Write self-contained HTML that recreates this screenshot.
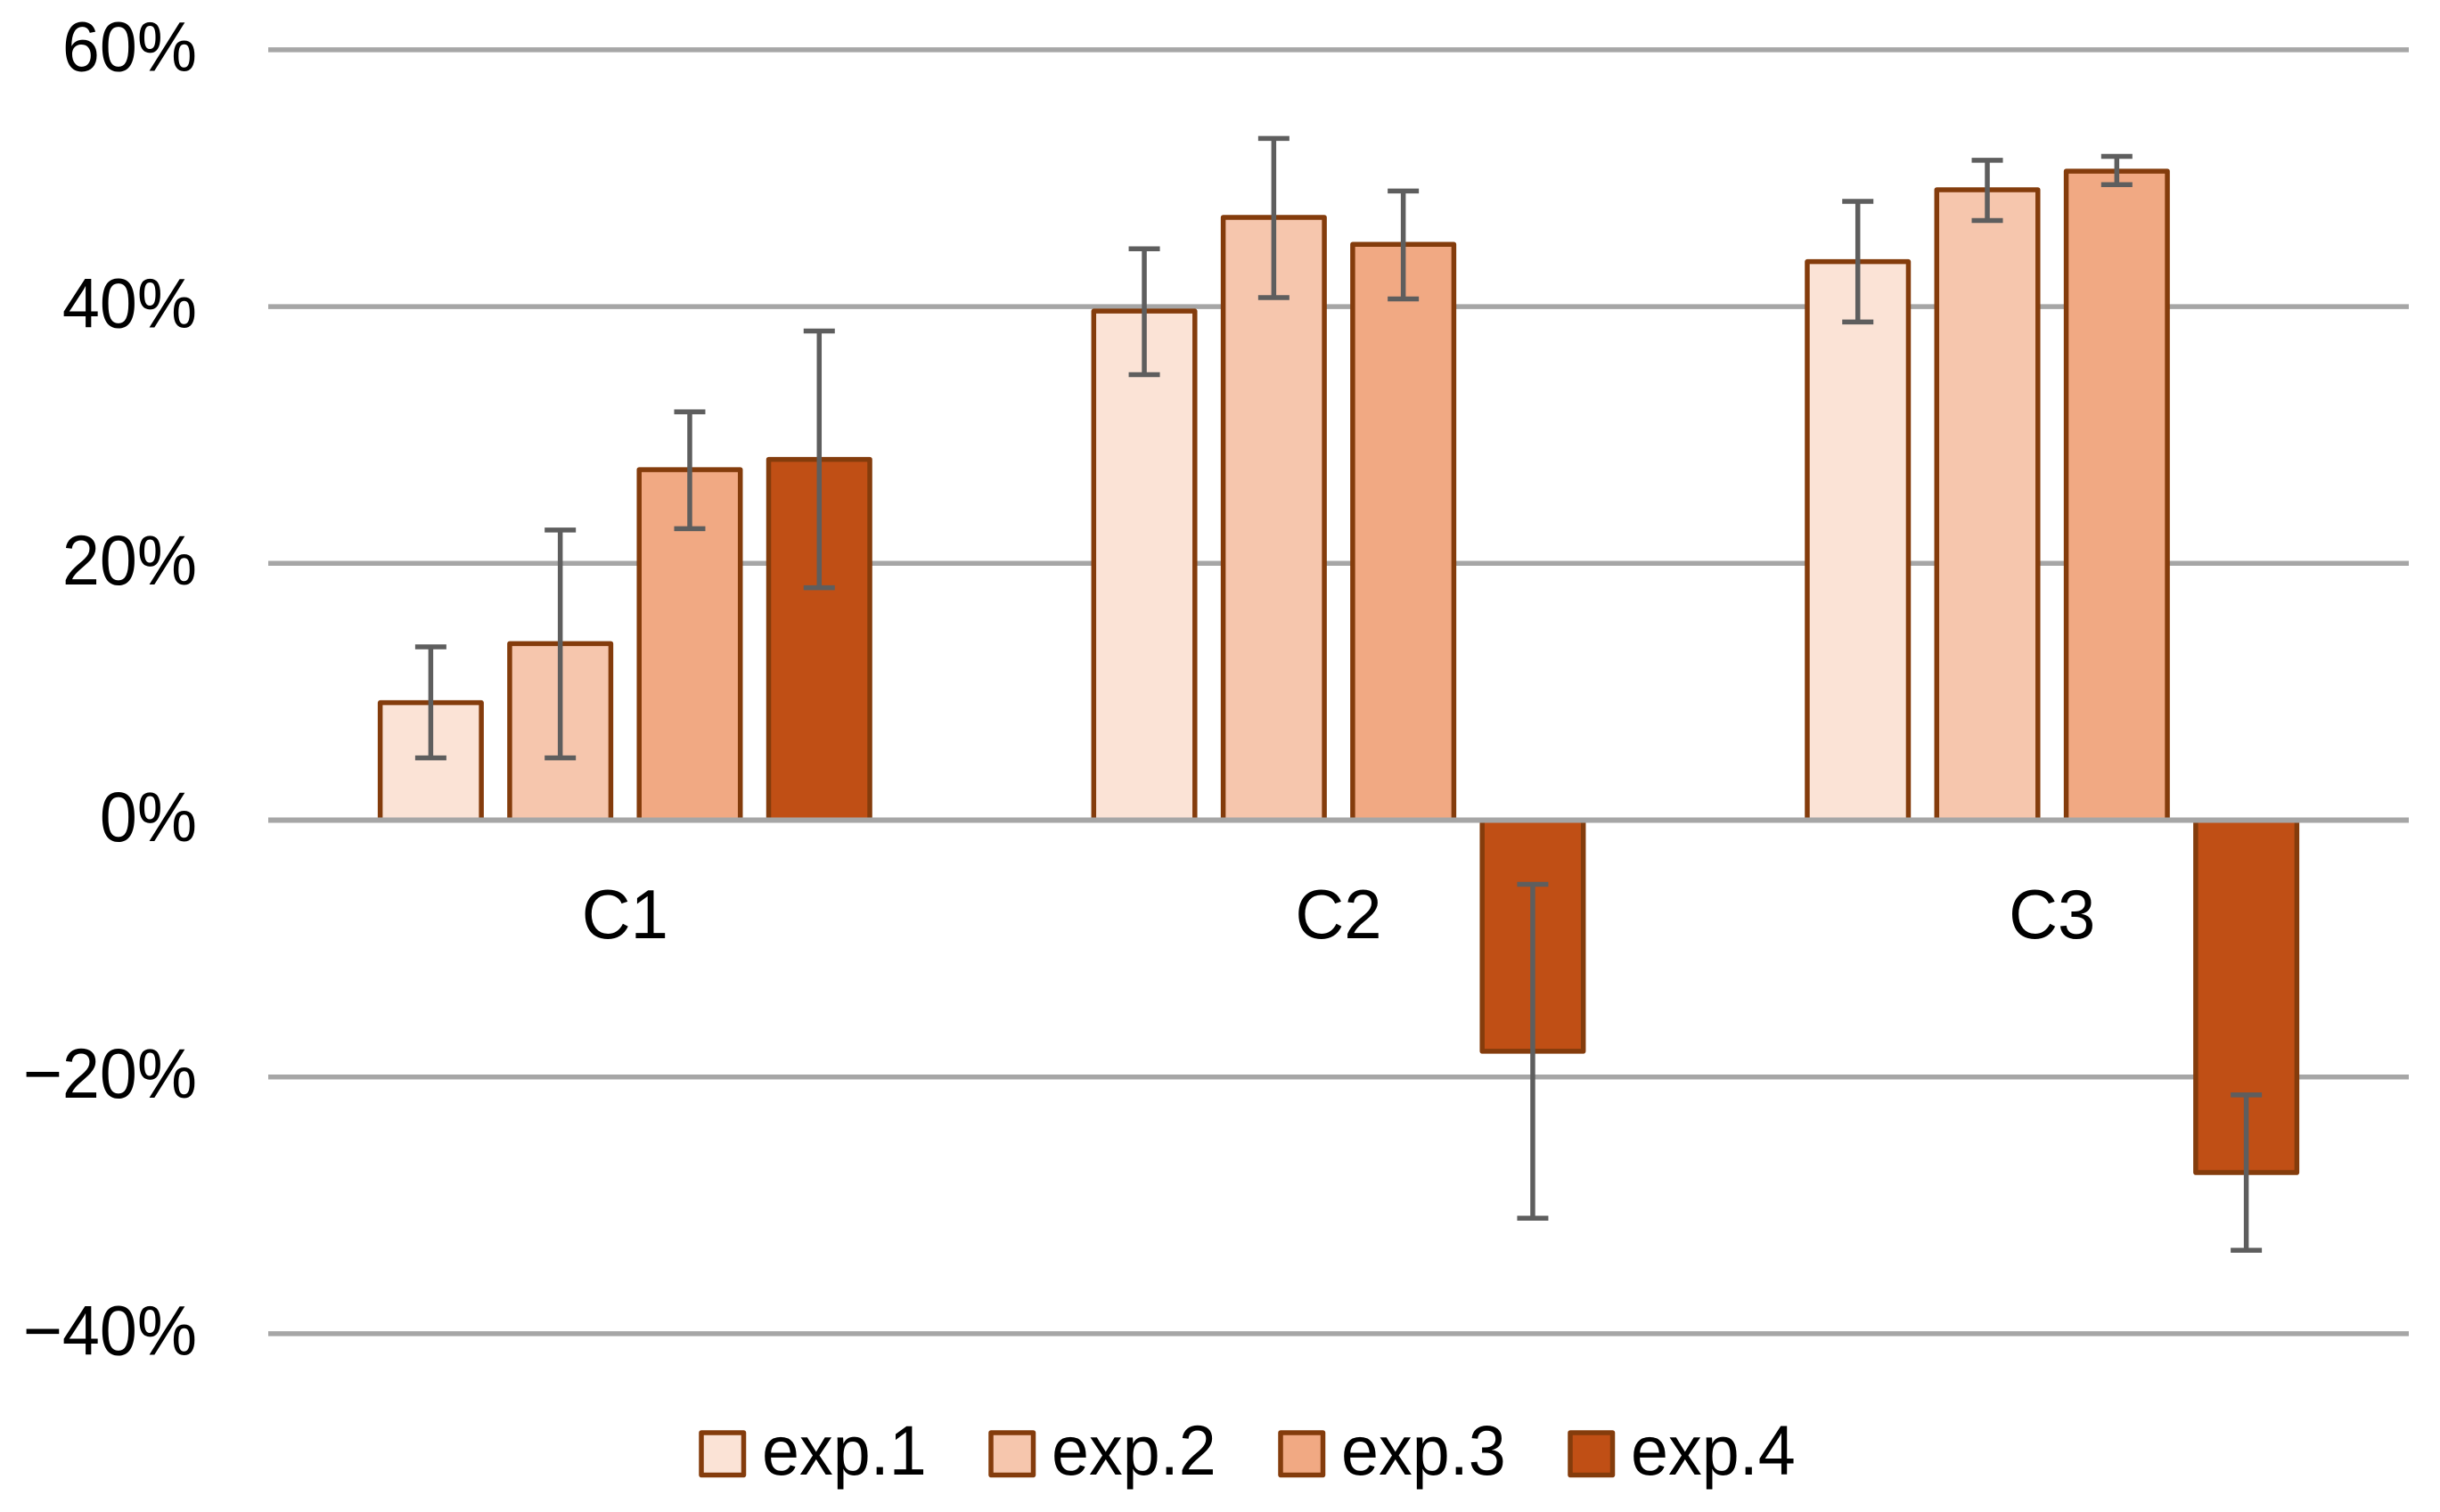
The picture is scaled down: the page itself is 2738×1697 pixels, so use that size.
<!DOCTYPE html>
<html lang="en">
<head>
<meta charset="utf-8">
<title>Experiment results by condition</title>
<style>
html,body{margin:0;padding:0;background:#fff;}
body{width:2738px;height:1697px;overflow:hidden;}
svg{display:block;}
text{font-family:"Liberation Sans",Arial,sans-serif;fill:#000;}
</style>
</head>
<body>
<svg id="chart" width="2738" height="1697" viewBox="0 0 2738 1697" xmlns="http://www.w3.org/2000/svg"></svg>
<script>
const categories = ["C1", "C2", "C3"];
const seriesNames = ["exp.1", "exp.2", "exp.3", "exp.4"];
const tickValues = [60, 40, 20, 0, -20, -40];
const tickLabels = ["60%", "40%", "20%", "0%", "\u221220%", "\u221240%"];

const exp1Values = [9.15, 39.65, 43.5];
const exp2Values = [13.75, 46.95, 49.1];
const exp3Values = [27.3, 44.85, 50.55];
const exp4Values = [28.1, -18.0, -27.45];

const exp1High = [13.5, 44.5, 48.2];
const exp2High = [22.6, 53.1, 51.4];
const exp3High = [31.8, 49.0, 51.7];
const exp4High = [38.1, -5.0, -21.4];

const exp1Low = [4.85, 34.7, 38.8];
const exp2Low = [4.85, 40.7, 46.7];
const exp3Low = [22.7, 40.6, 49.5];
const exp4Low = [18.1, -31.0, -33.5];

const seriesValues = [exp1Values, exp2Values, exp3Values, exp4Values];
const seriesHigh = [exp1High, exp2High, exp3High, exp4High];
const seriesLow = [exp1Low, exp2Low, exp3Low, exp4Low];
const seriesFills = ["#FBE3D6", "#F6C6AD", "#F1A983", "#C04F15"];

const svg = document.getElementById('chart');
const NS = 'http://www.w3.org/2000/svg';
const plotLeft = 301, plotRight = 2703;
const zeroY = 920.5, pxPerUnit = 14.41;
const barStep = 145.3, barWidth = 113.5;
const borderColor = '#843C0C', gridColor = '#A6A6A6', errColor = '#5E5E5E';

function yScale(v) { return zeroY - v * pxPerUnit; }
function catCenter(i) { return plotLeft + (plotRight - plotLeft) / categories.length * (i + 0.5); }
function barCenter(i, s) { return catCenter(i) + (s - (seriesNames.length - 1) / 2) * barStep; }

function make(tag, attrs, text) {
  const el = document.createElementNS(NS, tag);
  for (const k in attrs) el.setAttribute(k, attrs[k]);
  if (text !== undefined) el.textContent = text;
  svg.appendChild(el);
  return el;
}
function hLine(x1, x2, y, color, w) {
  return make('line', {x1: x1, x2: x2, y1: y, y2: y, stroke: color, 'stroke-width': w});
}
function vLine(x, y1, y2, color, w) {
  return make('line', {x1: x, x2: x, y1: y1, y2: y2, stroke: color, 'stroke-width': w});
}
function label(str, x, y, size, stretch, anchor) {
  return make('text', {
    transform: 'translate(' + x + ' ' + y + ') scale(1 ' + stretch + ')',
    'font-size': size, 'text-anchor': anchor
  }, str);
}

// gridlines and y tick labels
tickValues.forEach(function (v, i) {
  if (v !== 0) {
    const grid = hLine(plotLeft, plotRight, yScale(v), gridColor, 5.5);
    
    
  }
  const tick = label(tickLabels[i], 221, yScale(v) + 23.5, 75.5, 1.04, 'end');
  
  
});

// bars
seriesNames.forEach(function (name, s) {
  categories.forEach(function (cat, i) {
    const v = seriesValues[s][i];
    const top = Math.min(yScale(v), yScale(0));
    const h = Math.abs(yScale(v) - yScale(0));
    const bar = make('rect', {
      x: barCenter(i, s) - barWidth / 2, y: top, width: barWidth, height: h,
      fill: seriesFills[s], stroke: borderColor, 'stroke-width': 5.5, 'stroke-linejoin': 'round'
    });
    
    
  });
});

// zero axis line
const zeroAxis = hLine(plotLeft, plotRight, yScale(0), gridColor, 6);



// error bars
seriesNames.forEach(function (name, s) {
  categories.forEach(function (cat, i) {
    const x = barCenter(i, s);
    const yHi = yScale(seriesHigh[s][i]);
    const yLo = yScale(seriesLow[s][i]);
    const stem = vLine(x, yHi, yLo, errColor, 5.5);
    
    
    const capHi = hLine(x - 17.5, x + 17.5, yHi, errColor, 5.5);
    
    
    const capLo = hLine(x - 17.5, x + 17.5, yLo, errColor, 5.5);
    
    
  });
});

// category labels
categories.forEach(function (cat, i) {
  const catLabel = label(cat, catCenter(i), 1053, 76, 1.02, 'middle');
  
  
});

// legend
seriesNames.forEach(function (name, s) {
  const swatchX = 787 + s * 325;
  const swatch = make('rect', {
    x: swatchX, y: 1608, width: 47.5, height: 47.5,
    fill: seriesFills[s], stroke: borderColor, 'stroke-width': 5.5, 'stroke-linejoin': 'round'
  });
  
  
  const legendLabel = label(name, swatchX + 68, 1655, 75.5, 1.05, 'start');
  
  
});
</script>
</body>
</html>
